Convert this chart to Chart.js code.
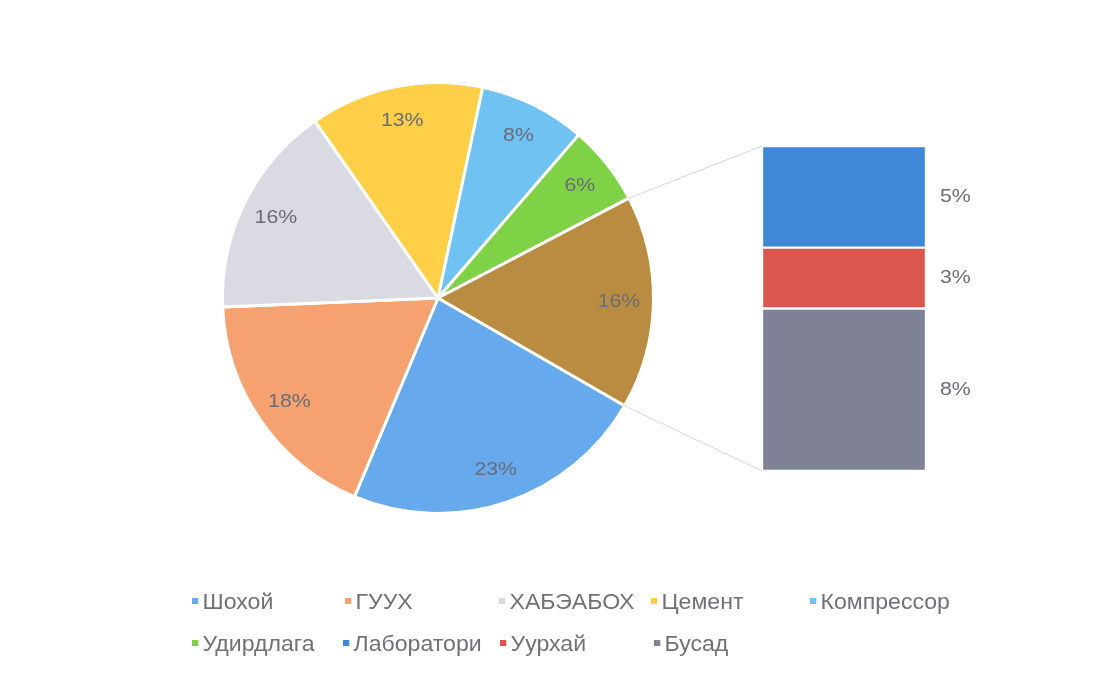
<!DOCTYPE html>
<html><head><meta charset="utf-8">
<script src="https://cdn.jsdelivr.net/npm/chart.js@4.4.1/dist/chart.umd.min.js"></script>
<style>
html,body{margin:0;padding:0;background:#fff;}
#wrap{position:relative;width:1118px;height:683px;overflow:hidden;background:#fff;}
canvas{position:absolute;left:0;top:0;}
.lg{position:absolute;font-family:"Liberation Sans",Arial,sans-serif;font-size:22px;color:#707078;white-space:nowrap;transform:scaleX(1.05);transform-origin:0 50%;line-height:24px;}
.lg i{display:inline-block;width:6px;height:6px;margin-right:4px;vertical-align:middle;position:relative;top:-2px;}
</style></head>
<body><div id="wrap"><canvas id="pie" width="1118" height="683"></canvas><canvas id="bar" width="1118" height="683"></canvas><div id="legend"></div></div>
<script>
// main pie categories (percent)
const mainLabels = ['Шохой','ГУУХ','ХАБЭАБОХ','Цемент','Компрессор','Удирдлага'];
const mainValues = [23, 18, 16, 13, 8, 6];
const mainColors = ['#66a9ec','#f5a270','#dadae2','#ffcf48','#70c2f3','#7fd146'];
// secondary bar (breakdown of the "other" slice), listed bottom to top
const subLabels = ['Бусад','Уурхай','Лаборатори'];
const subValues = [8, 3, 5];
const subColors = ['#7f8294','#d9574c','#3f88d8'];
const otherLabel = 'Бусад нийт';
const otherColor = '#b98c42';
// legend order
const legendLabels = ['Шохой','ГУУХ','ХАБЭАБОХ','Цемент','Компрессор','Удирдлага','Лаборатори','Уурхай','Бусад'];

const otherTotal = subValues.reduce((a,b)=>a+b,0);
const pieLabels = mainLabels.concat([otherLabel]);
const pieValues = mainValues.concat([otherTotal]);
const pieColors = mainColors.concat([otherColor]);
const total = pieValues.reduce((a,b)=>a+b,0);

const labelFont = '19px "Liberation Sans", Arial, sans-serif';
const labelColor = '#6c6c78';
function drawText(ctx, txt, x, y, align){
  ctx.save();
  ctx.translate(x, y);
  ctx.scale(1.12, 1);
  ctx.font = labelFont;
  ctx.fillStyle = labelColor;
  ctx.textAlign = align;
  ctx.textBaseline = 'middle';
  ctx.fillText(txt, 0, 0);
  ctx.restore();
}

const pieLabelPlugin = {
  id: 'pieLabels',
  afterDatasetsDraw(chart){
    const ctx = chart.ctx;
    const meta = chart.getDatasetMeta(0);
    meta.data.forEach((arc, i) => {
      const p = arc.getProps(['x','y','startAngle','endAngle','outerRadius'], true);
      const mid = (p.startAngle + p.endAngle) / 2;
      const r = p.outerRadius * 0.84;
      const txt = Math.round(pieValues[i] / total * 100) + '%';
      drawText(ctx, txt, p.x + Math.cos(mid) * r, p.y + Math.sin(mid) * r, 'center');
    });
  }
};

const pieChart = new Chart(document.getElementById('pie'), {
  type: 'pie',
  data: { labels: pieLabels, datasets: [{ data: pieValues, backgroundColor: pieColors, borderColor: '#ffffff', borderWidth: 3 }] },
  options: {
    responsive: false, animation: false, rotation: 120,
    layout: { padding: { left: 221, top: 81, right: 463, bottom: 168 } },
    plugins: { legend: { display: false }, tooltip: { enabled: false } }
  },
  plugins: [pieLabelPlugin]
});

const barPlugin = {
  id: 'barExtras',
  afterDatasetsDraw(chart){
    const ctx = chart.ctx;
    // connector lines from the "other" slice to the bar
    const pm = pieChart.getDatasetMeta(0);
    const arc = pm.data[pm.data.length - 1].getProps(['x','y','startAngle','endAngle','outerRadius'], true);
    const topEl = chart.getDatasetMeta(subValues.length - 1).data[0];
    const botEl = chart.getDatasetMeta(0).data[0];
    const left = topEl.x - topEl.width / 2;
    ctx.save();
    ctx.strokeStyle = '#d6d6d6';
    ctx.lineWidth = 1;
    ctx.beginPath();
    ctx.moveTo(arc.x + Math.cos(arc.startAngle) * arc.outerRadius, arc.y + Math.sin(arc.startAngle) * arc.outerRadius);
    ctx.lineTo(left, topEl.y);
    ctx.moveTo(arc.x + Math.cos(arc.endAngle) * arc.outerRadius, arc.y + Math.sin(arc.endAngle) * arc.outerRadius);
    ctx.lineTo(left, botEl.base);
    ctx.stroke();
    ctx.restore();
    // value labels to the right
    subValues.forEach((v, i) => {
      const el = chart.getDatasetMeta(i).data[0];
      const txt = Math.round(v / total * 100) + '%';
      drawText(ctx, txt, el.x + el.width / 2 + 14, (el.y + el.base) / 2, 'left');
    });
  }
};

new Chart(document.getElementById('bar'), {
  type: 'bar',
  data: {
    labels: [''],
    datasets: subValues.map((v, i) => ({
      label: subLabels[i], data: [v], backgroundColor: subColors[i],
      borderColor: '#ffffff', borderWidth: 1.5, borderSkipped: false,
      barPercentage: 1, categoryPercentage: 1
    }))
  },
  options: {
    responsive: false, animation: false,
    layout: { padding: { left: 762, right: 192, top: 146, bottom: 212 } },
    scales: {
      x: { display: false, stacked: true },
      y: { display: false, stacked: true, min: 0, max: otherTotal }
    },
    plugins: { legend: { display: false }, tooltip: { enabled: false } }
  },
  plugins: [barPlugin]
});

// legend (HTML)
const colorOf = {};
mainLabels.forEach((l, i) => colorOf[l] = mainColors[i]);
subLabels.forEach((l, i) => colorOf[l] = subColors[i]);
const legendPos = [[192,590],[345,590],[499,590],[651,590],[810,590],[192,632],[343,632],[500,632],[654,632]];
const lg = document.getElementById('legend');
legendLabels.forEach((l, i) => {
  const d = document.createElement('div');
  d.className = 'lg';
  d.style.left = legendPos[i][0] + 'px';
  d.style.top = legendPos[i][1] + 'px';
  d.innerHTML = '<i style="background:' + colorOf[l] + '"></i>' + l;
  lg.appendChild(d);
});
</script>
</body></html>
